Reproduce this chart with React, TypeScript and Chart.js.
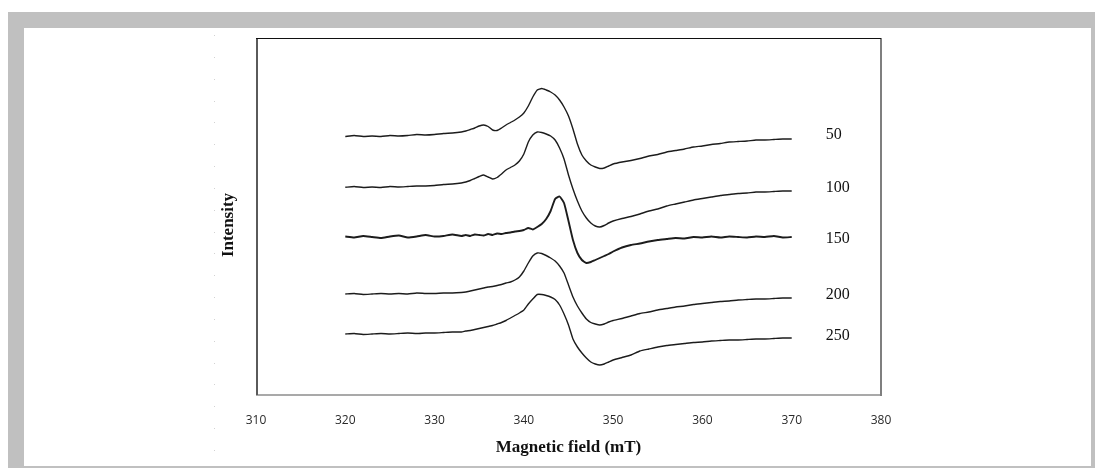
import React, { useEffect, useRef } from "react";
import { Chart, registerables } from "chart.js";

Chart.register(...registerables);

// Magnetic field grid (mT)
const FIELD: number[] = [
  320, 321, 322, 323, 324, 325, 326, 327, 328, 329, 330, 331, 332, 333,
  333.5, 334, 334.5, 335, 335.5, 336, 336.5, 337, 337.5, 338, 338.5, 339, 339.5, 340,
  340.5, 341, 341.5, 342, 342.5, 343, 343.5, 344, 344.5, 345, 345.5, 346, 346.5, 347,
  347.5, 348, 348.5, 349, 349.5, 350,
  351, 352, 353, 354, 355, 356, 357, 358, 359, 360, 361, 362, 363, 364, 365, 366, 367, 368, 369, 370,
];

// Intensity (arbitrary, offset) for each sample
const I50: number[] = [
  258.5, 259.5, 258.5, 259, 258.5, 259.5, 259, 259.5, 260.5, 260, 260.5, 261.5, 262, 263,
  264, 265.5, 267, 269, 270, 268.5, 265, 264.5, 267, 270, 272.5, 275, 278, 282,
  289, 298, 305, 306.5, 305, 303, 300, 295, 288, 279, 266, 251, 240, 234,
  230, 228, 226.5, 227, 229, 231,
  233, 234.5, 236.5, 239, 240.5, 243, 244.5, 246, 248, 249, 250.5, 251.5, 253, 253.5, 254, 255, 255, 255.5, 256, 256,
];
const I100: number[] = [
  207.7, 208.5, 207.5, 208, 207.5, 208.5, 208, 208.5, 209, 209, 209.5, 210.5, 211, 212,
  213, 214.5, 216.5, 218.5, 220, 218, 216, 217.5, 221, 225, 227.5, 230, 234, 241,
  253, 260, 263, 262.5, 261, 259, 255, 247, 236, 220, 206, 194, 184, 177,
  172, 169, 168, 169.5, 172, 174,
  176.5, 178.5, 181, 184, 186, 189, 191, 193, 195, 196.5, 198, 199.5, 200.5, 201.5, 202, 203, 203, 203.5, 204, 204,
];
const I150: number[] = [
  158.5, 157.5, 159, 158, 157, 158.5, 159.5, 157.5, 158.5, 160, 158.5, 159, 160.5, 159,
  160, 159, 160.5, 160, 159.5, 161, 160, 161.5, 161, 162, 162.5, 163.5, 164, 165,
  167, 165.5, 168, 171, 176, 184, 196, 198.5, 192, 174, 155, 142, 135, 132,
  133, 135, 137, 139, 141, 143.5,
  147.5, 150, 151.5, 153.5, 155, 156, 157, 156.5, 158, 157.5, 158.5, 157.5, 158.5, 158, 157.5, 158.5, 158, 159, 157.5, 158,
];
const I200: number[] = [
  101, 101.5, 100.5, 101, 101.5, 101, 101.5, 101, 102, 101.5, 101.5, 102, 102, 102.5,
  103, 104, 105, 106, 107, 108, 108.5, 109.5, 110.5, 112, 113, 115, 118, 124,
  132, 139, 142, 141.5, 139.5, 137, 134, 129, 122, 110, 98, 89, 82, 76,
  72.5, 71, 70, 71, 73, 74.5,
  76.5, 79, 81.5, 83, 85, 86.5, 88, 89, 90.5, 91.5, 92.5, 93.5, 94, 95, 95.5, 96, 96, 96.5, 97, 97,
];
const I250: number[] = [
  61, 61.5, 60.5, 61, 61.5, 61, 61.5, 62, 61.5, 62, 62, 62.5, 63, 63,
  64, 64.5, 65.5, 66.5, 67.5, 68.5, 69.5, 71, 72.5, 74.5, 77, 79.5, 82, 85,
  91, 96, 100.5, 100.5, 99.5, 98, 95.5, 90, 81, 70, 56, 48, 42, 37,
  33, 31, 30, 31, 33, 35,
  37.5, 40, 44, 46, 48, 49.5, 50.5, 51.5, 52.5, 53, 54, 54.5, 55, 55, 55.5, 56, 56, 56.5, 57, 57,
];

const SERIES_NAMES: string[] = ["50", "100", "150", "200", "250"];
const SERIES_VALUES: number[][] = [I50, I100, I150, I200, I250];
const LABEL_FIELD = 373.8;
const LABEL_VALUES: number[] = [260, 207.3, 156, 100.7, 59];
const X_TICKS: number[] = [310, 320, 330, 340, 350, 360, 370, 380];

const decorPlugin = {
  id: "decor",
  beforeDraw(chart: any) {
    const ctx = chart.ctx;
    ctx.save();
    ctx.fillStyle = "#d2d2d2";
    for (let i = 0; i < 20; i++) {
      const y = Math.round(7 + i * 21.84);
      ctx.fillRect(190, y, 1, 1);
    }
    ctx.restore();
  },
  afterDraw(chart: any) {
    const { ctx, chartArea } = chart;
    const { left, top, right, bottom } = chartArea;
    ctx.save();
    // frame
    ctx.fillStyle = "#a9a9a9";
    ctx.fillRect(left, bottom - 1, right - left + 1, 2);
    ctx.fillStyle = "#7f7f7f";
    ctx.fillRect(right - 1, top, 2, bottom - top + 1);
    ctx.fillStyle = "#5a5a5a";
    ctx.fillRect(left, top, 2, bottom - top);
    ctx.fillStyle = "#111";
    ctx.fillRect(left, top, right - left, 1);
    // series labels
    const xs = chart.scales.x;
    const ys = chart.scales.y;
    ctx.fillStyle = "#111";
    ctx.font = "16px 'Liberation Serif', serif";
    ctx.textAlign = "left";
    ctx.textBaseline = "middle";
    SERIES_NAMES.forEach((n, i) => {
      ctx.fillText(n, xs.getPixelForValue(LABEL_FIELD), ys.getPixelForValue(LABEL_VALUES[i]));
    });
    // y title
    ctx.translate(205, 197);
    ctx.rotate(-Math.PI / 2);
    ctx.font = "bold 17px 'Liberation Serif', serif";
    ctx.textAlign = "center";
    ctx.fillText("Intensity", 0, 0);
    ctx.restore();
  },
};

export default function App() {
  const ref = useRef<HTMLCanvasElement | null>(null);
  useEffect(() => {
    if (!ref.current) return;
    const chart = new Chart(ref.current, {
      type: "line",
      data: {
        datasets: SERIES_VALUES.map((vals, i) => ({
          label: SERIES_NAMES[i],
          data: vals.map((v, k) => ({ x: FIELD[k], y: v })),
          borderColor: "#1c1c1c",
          borderWidth: i === 2 ? 1.9 : 1.4,
          pointRadius: 0,
          tension: 0.15,
          fill: false,
        })),
      },
      options: {
        animation: false,
        responsive: false,
        maintainAspectRatio: false,
        layout: { padding: { left: 232, top: 10, right: 210, bottom: 0 } },
        plugins: { legend: { display: false }, tooltip: { enabled: false } },
        scales: {
          x: {
            type: "linear",
            min: 310,
            max: 380,
            afterBuildTicks: (axis: any) => {
              axis.ticks = X_TICKS.map((v) => ({ value: v }));
            },
            afterFit: (axis: any) => {
              axis.height = 71;
            },
            grid: { display: false, drawTicks: false },
            border: { display: false },
            ticks: {
              padding: 18,
              color: "#2a2a2a",
              font: { family: "'Open Sans', sans-serif", size: 12 },
              maxRotation: 0,
            },
            title: {
              display: true,
              text: "Magnetic field (mT)",
              color: "#111",
              font: { family: "'Liberation Serif', serif", size: 17, weight: "bold" },
              padding: { top: 0, bottom: 8 },
            },
          },
          y: {
            display: false,
            min: 0,
            max: 357,
          },
        },
      },
      plugins: [decorPlugin],
    });
    return () => chart.destroy();
  }, []);

  return (
    <div style={{ position: "absolute", left: 0, top: 0, width: 1095, height: 468, background: "#fff", overflow: "hidden" }}>
      <div style={{ position: "absolute", left: 8, top: 12, width: 1087, height: 456, background: "#c0c0c0" }} />
      <div style={{ position: "absolute", left: 24, top: 28, width: 1067, height: 438, background: "#fff" }}>
        <canvas ref={ref} width={1067} height={438} style={{ display: "block", width: 1067, height: 438 }} />
      </div>
    </div>
  );
}
